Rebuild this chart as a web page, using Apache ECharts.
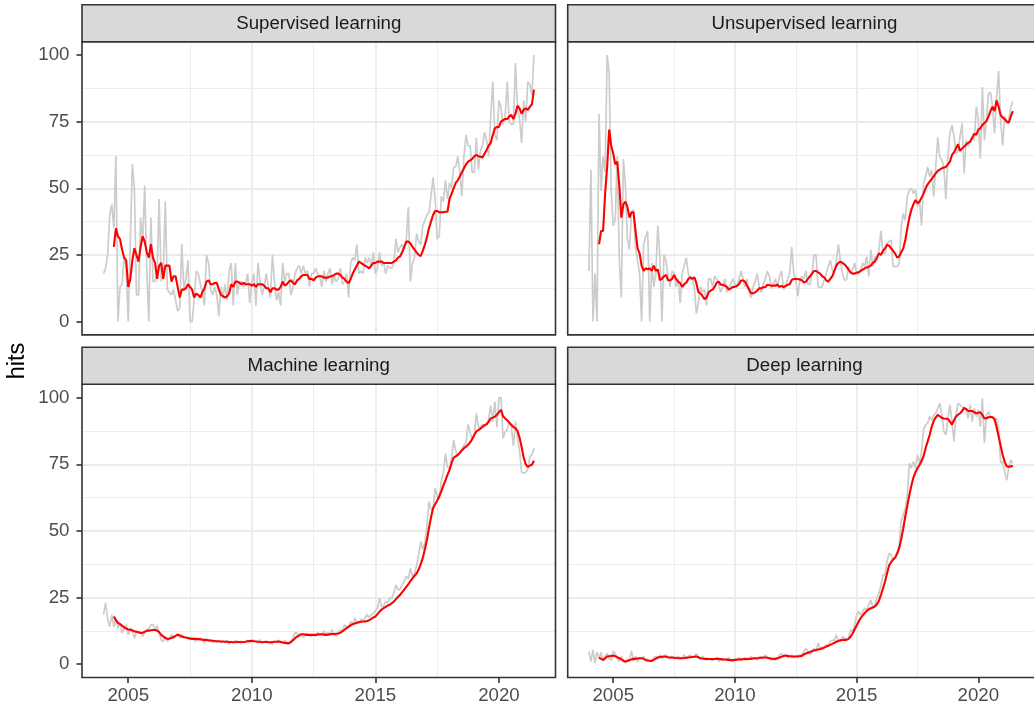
<!DOCTYPE html>
<html>
<head>
<meta charset="utf-8">
<script src="https://cdn.jsdelivr.net/npm/echarts@6/dist/echarts.min.js"></script>
<style>html,body{margin:0;padding:0;background:#fff}#c{width:1034px;height:708px}</style>
</head>
<body>
<div id="c"></div>
<script>
// ---------------- DATA ----------------
const startYear = 2004;           // first month: Jan 2004 (monthly data to Jun 2021)
const panelTitles = ['Supervised learning', 'Unsupervised learning', 'Machine learning', 'Deep learning'];
const xTickValues = [2005, 2010, 2015, 2020];
const yTickValues = [0, 25, 50, 75, 100];
const yTitle = 'hits';

const supGray = [18,20,25,40,44,35,62,0,13,14,25,20,
 0,30,59,50,10,10,39,30,51,20,0,39,
 15,15,18,46,15,18,45,12,11,10,12,8,
 4,5,29,12,16,23,0,0,8,19,18,14,
 11,6,25,22,12,10,13,10,2,13,9,14,
 8,19,22,6,22,10,15,15,13,14,18,7,
 15,18,6,22,15,10,13,18,13,9,25,15,
 8,11,6,22,15,18,18,10,13,18,20,21,
 18,21,18,19,13,18,18,20,18,17,13,19,
 15,18,20,14,17,15,16,20,14,15,18,9,
 22,24,23,29,18,19,18,24,22,24,21,26,
 18,20,26,21,22,18,21,20,20,22,31,26,
 28,29,27,31,43,15,22,24,33,30,29,36,
 38,40,41,47,54,46,31,32,47,45,53,46,
 52,50,58,58,62,56,47,62,70,66,66,56,
 56,69,57,64,66,71,68,62,77,90,70,68,
 83,80,74,77,90,75,74,74,97,80,76,67,
 83,75,90,89,85,100];
const supRed = [null,null,null,null,null,
 28,35,32,31,27,24,23,13,16,23,27.5,25,22.5,28,32,30,26,24,29,24,22,16,21,22,16,21,21,21,15,17,17,13,9,12,12,
 12.5,14,13,12,9,10.5,10,9,11,12.5, 15,15.5,14,14,14.5,14.5,12,10,9.5,9, 9.5,10.5,14,13,15,15,14.5,14,14.5,14,
 14,14,13.5,14,13,14,14,14,13.5,12.5, 12.5,11,12.5,12.5,12,12,13,15,13.5,14, 15,15.5,14.5,14,15.5,16,17,17.5,17.5,17.5,
 16,16,15.5,16.5,17,17,17,16.5,16.5,16.5, 17,17,17.5,18,18,17.5,16.5,16,15,14.4, 16,18,19.5,21,22.5,22,21.5,21,20.5,20,
 21,22,22,22.5,22.5,22.5,22,22,22,22, 22,22.5,23,24,24.4,26,28,30,30,29.4, 28,27,26,25,24.6,26.5,28.8,31.5,35,37.5,
 40,41.5,41.5,41,41,41,41.2,41.2,46,48, 50,52,53,54.4,56,57.5,59,60,60.5,61, 62,62.5,62,61.8,61.6,63,64.4,66,67,70,
 72.5,73,73,75,75.6,76,76,77,77.5,76, 78,81,80,78,79.5,80,79.4,80.6,81.5,87];

const unsupGray = [19,57,0,18,0,78,49,62,56,100, 93,49,36,38,62,23,9,61,51,31, 27,41,42,28,23,18,0,29,32,34,
 0,22,13,18,36,24,0,25,23,17.5, 13,19,18,13,16,7,18,21,24,18, 16,16,13,3,7,13,11,12,6,16,
 16,13,17,16,14,11,13,16,11,13, 14,16,14,13,16,19,16,13,16,10.6, 9,13,15,18,13,11,14,16,19,17,
 12.5,14,16,13,17,19,12,13,16,18, 28,18,
 16,9.4,15.6,17,16,19,14,13.8,18,25, 25,13,12.9,13,15.6,18,20.6,23,19.4,18, 23,29,23,18,15.6,15.6,20.6,18,19.4,22,
 18,18,19.4,22,20.6,24.4,17,27,20.6,24.4, 23,27,34,25.6,25.6,29.4,30,30.6,20.6,20.6, 20.6,21.9,35.6,40.6,38,46.9,49.4,50,48,49.4,
 43,45.6,36,51.9,54.4,58,54.4,56.9,46.9,58, 69,61.9,60.6,58,46,61.9,70.6,73.8,69.4,63, 64,69.4,74.4,55.6,68,65.6,68,69.4,68,80.6,
 75.6,61.2,88,68,75.6,85.6,86,80.6,70.6,84, 94,75.6,66,76.9,74.4,75.6,80.6,82.5];
const unsupRed = [null,null,null,null,null,
 29,34,34,48,58,72,66,63,59,60, 51,39,44,45,43,39,41,41,34,27.5, 25.6,21,19,20,19.6,20,19,21,19,19.6,
 15.6,16,17,17.5,15.6,15.4,16,17.5,16,15, 14.4,13,14,14.6,16,16.6,16,16.6,14.4,11, 10.6,9.6,8.4,9,11,11.6,12,13,14.6,15,
 13.8,13.8,13.5,13,12,12.5,13,13,13.4,14, 15.4,15.4,15,13.4,12,10.6,10.6,11,11.6,12.5, 12.5,12.9,13,13.8,13.6,13.5,13.5,13.5,13.8,13,
 13.4,12.9,13.4,13.8,14,
 15.6,16,16,16,15.8,15.5,14.6,15,16,17, 18,19,19,18.5,18,17,16.6,15.5,15,16, 17,19,21,22,22.5,22,21.5,20.6,19.5,18.5,
 18,18,18.3,18.5,19,19.5,20,20.3,20.6,21, 22,22.5,24,25.6,25,26.5,27.5,28.8,28.5,27.5, 26.5,25.5,24,24.5,26,27.5,30.6,35,39,42,
 44,45.6,44.4,45,46.5,48,50,51.5,52.5,53.5, 54.5,55.6,56.5,57,57.5,57.8,58,59,60,62.5, 63.5,65,66.5,64,65,65.6,66.5,67,67.5,69,
 70.5,70,72,72.5,73.75,74.5,75.2,77,79,80.6, 79,83,80.6,77.5,76.5,76,75,74.6,77,79];

const mlGray = [18.5,23,17,14,18.5,14,17,13.5,15.5,11.6, 13.5,14.75,11,13.5,12.9,9.75,12,12.2,12.2,10.5,
 12,12.9,13.5,14.75,15,12.9,14.5,12,9.1,8.5, 10.4,8.5,9.75,11.2,9.75,10.4,11.6,9.75,11,10.5,
 10,9.5,9.7,10,9,8.5,9.5,9.75,9,8, 9.5,8.5,9,8,8.7,8.2,9,8,8.5,8.2, 9,7.5,8.5,8,9,8.5,8,8.7,8.2,8.5,
 9,8,8.7,9,8.5,8.2,9.2,8,8.5,8.7, 8.2,8,7.5,8.5,8.2,9,8.5,8,9,7.8, 7.5,8.5,10,12,11.5,10.5,11,10,11.5,11.5,
 10.5,10.5,11,10.5,12,11,
 11,12.5,11,12,11,13,11,10.4,12,13, 12.5,14.75,14,14,16,15,17.25,16,15.5,17, 16,17.5,18.5,17.5,18.5,19,20,21,24.75,21.5,
 22,23.5,23,25,24.5,27,29.75,28,28,30, 31,33,32,36,33,34,37,41,46,43, 45.5,52,61,58,58,66,63,62,68.5,72,
 79,74,73,78,84,80,78,79,81,82, 83,90,87,84,86,94,89,89,90,89, 90,92,97,91,98.5,89,100,100,84.75,87,
 88,91,89,82,91,85,80,72,71.6,72, 73,78,78.5,81];
const mlRed = [null,null,null,null,null,
 17.9,16.5,15.5,15,14.5,13.8,13.4,13,12.9,12.6, 12.3,12.2,12,11.7,11.8,12.2,12.5,12.6,12.7,12.8,
 12.8,12.6,12,11,10.4,9.8,9.5,9.6,9.8,10.2, 10.6,11,10.8,10.4,10.1,10,9.8,9.6,9.5,9.5,
 9.5,9.4,9.3,9.2,9.1,9.1,9,8.9,8.8,8.7, 8.6,8.6,8.5,8.5,8.4,8.4,8.3,8.3,8.25,8.25,
 8.3,8.3,8.25,8.3,8.4,8.6,8.7,8.75,8.6,8.5, 8.4,8.3,8.25,8.3,8.3,8.25,8.2,8.3,8.4,8.4,
 8.5,8.3,8.1,8,7.9,7.9,8.3,9,9.75,10.3, 10.8,11.25,11.25,11,11,11,11,11,11,11.1,11.2,
 11.2,11.1,11,11.1,11.2,11.3,11.3,11.4,11.5,11.8, 12.3,12.9,13.5,14.1,14.6,15,15.3,15.5,15.7,15.9,
 16,16,16.2,16.5,17,17.5,17.9,18.8,19.7,20.5, 21,21.5,22,22.3,22.9,23.5,24.4,25.3,26,27,
 28,29,30,31.2,32.2,33.2,34,35.5,37.5,39.8, 43,46.5,51,55,58.5,60,61.3,63,64.8,67,
 69,71,72.9,75.5,77.5,78,78.5,79.3,80.2,81, 81.6,82.3,83.2,84.5,86,87.3,87.8,88.4,89,89.7,
 90,91,92.2,92.5,92.8,93.6,94.5,95.4,93,92.2, 91.5,90.6,89.8,89,88.5,87.5,85,81.5,77.5,75,
 74,74.5,74.8,76.3];

const dlGray = [4.75,1,5.4,0.4,4.5,2,4.5,1,3,4, 2,1.5,5,4,2,1,3,1,0.5,2, 1.5,5,1,3,1,2.5,2,3,1,2,
 1,1.5,2.5,3,2,3.5,2,3,3.5,2.5, 2,3,2,2.5,3,2,2.5,3.5,2,3, 3.5,2.5,3,4,2.5,2,3,2,1.5,2,
 2,1.5,2,2.5,1,2,1.5,2,1.5,2.5, 1.5,1,2,1.5,2.5,1.5,2,2.5,1.5,2, 3,2,2.5,1.5,3,2.5,2,3.5,2.5,2,
 1.5,2,2.5,2,3.5,4,3,3.5,2.5,3, 3.5,2.5,3,3.2,3.5,3.5,
 4.75,6,4.75,3.5,4.75,6,4.75,7.9,6,5.4, 6,7.25,7,8.5,9.1,8.75,11,8.75,8.5,10.4,
 9.75,9.5,9.75,12.9,12.25,14.75,18.5,19.75,18.5,19.75, 21,20.4,22.25,24.1,21,22.25,24.75,26.6,29.75,33.5,
 33.5,38.5,41.6,41,39,39.75,42.25,44.75,54,56, 58.5,63.5,75.4,73.5,76,73.5,78.5,75.4,79.75,87.9,
 89.75,90.4,92.9,91.6,93.5,94.1,96,97.9,93.5,87.25, 86,92.25,97.25,91,83.5,93.5,97.9,97.25,96.6,96,
 95.4,92.25,97.25,91,96,92.9,95.4,89.1,99.75,82.9, 93.5,94.75,92.25,92.9,91,92.25,88.5,75.4,76,72.25,
 69,73.5,76.6,75.4];
const dlRed = [null,null,null,null,null,
 2.5,2,1.6,2.2,2.9,3,3.1,3.25,3,2.6, 2.25,1.8,1.3,1,1.2,1.5,1.8,2,2,2.1,
 2.2,2.25,2,1.6,1.4,1.3,1.25,1.6,2.1,2.5, 2.7,2.8,2.9,2.8,2.6,2.5,2.5,2.4,2.3,2.25,
 2.25,2.25,2.3,2.4,2.5,2.6,2.7,2.8,2.9,2.6, 2.25,2.1,2,2,1.95,1.9,1.9,1.95,2,2,
 1.9,1.8,1.75,1.7,1.6,1.5,1.5,1.6,1.7,1.75, 1.8,1.85,1.9,1.95,2,2,2.1,2.2,2.25,2.3,
 2.4,2.5,2.5,2.4,2.25,2.1,2,1.9,2.2,2.5, 2.8,3.1,3.25,3.1,3,2.9,2.9,2.9,2.9,3,3.1,
 3.7,4,4.3,4.6,4.9,5.1,5.3,5.5,5.7,6, 6.25,6.6,6.9,7.25,7.6,8,8.4,8.7,9,9.1,
 9.1,9.1,9.5,10.3,11.5,13,14.5,16,17.3,18.3, 19.2,20,20.6,21,21.3,21.6,22.5,23.8,26,28.5,
 31,34,37,38.3,39.3,40,41.5,43.5,47,51, 55.5,59.5,63.5,67,70,72,73.5,74.75,76.2,78,
 81,83.5,86,89,91.3,92.6,93.5,93,92.4,92.2, 92.1,92,91,89.9,91.5,92.9,93.6,94.1,95,96.2,
 95.7,95,95,95,94.5,94.1,94.3,94.5,93.5,92.2, 92.3,92.6,92.8,92.6,92,89,85.5,82,78.5,76,
 74.2,74.1,74.2,74.4];

// ---------------- LAYOUT / STYLE ----------------
const FONT = '"Liberation Sans", Arial, Helvetica, sans-serif';
const colX = [82, 567.7];
const rowY = [41.7, 384.3];
const panelW = 473.5, panelH = 293.2, stripH = 37;
const grayColor = '#CCCCCC', redColor = '#FF0000';
const gridColor = '#EBEBEB', borderColor = '#333333';

// months as decimal years
const nMonths = supGray.length;
const monthX = Array.from({length: nMonths}, (_, i) => startYear + i / 12);
const lastX = monthX[nMonths - 1];
const xPad = (lastX - startYear) * 0.05;
const xMin = startYear - xPad, xMax = lastX + xPad;
const yMin = -5, yMax = 105;

const panelData = [[supGray, supRed], [unsupGray, unsupRed], [mlGray, mlRed], [dlGray, dlRed]];
const toPairs = arr => arr.map((v, i) => v == null ? null : [monthX[i], v]).filter(p => p);

const grids = [], xAxes = [], yAxes = [], series = [], graphics = [];
for (let k = 0; k < 4; k++) {
  const c = k % 2, r = Math.floor(k / 2);
  const left = colX[c], top = rowY[r];
  grids.push({left: left, top: top, width: panelW, height: panelH, show: false, containLabel: false});
  const showX = r === 1, showY = c === 0;
  xAxes.push({
    type: 'value', gridIndex: k, min: xMin, max: xMax, splitNumber: 4, minInterval: 5, maxInterval: 5,
    axisLine: {show: false, onZero: false},
    axisTick: {show: showX, customValues: xTickValues, length: 5.5, lineStyle: {color: borderColor, width: 1.6}},
    axisLabel: {show: showX, customValues: xTickValues, formatter: v => String(v), color: '#4D4D4D',
      fontSize: 18.7, fontFamily: FONT, margin: 9},
    splitLine: {show: true, showMinLine: false, showMaxLine: false, lineStyle: {color: gridColor, width: 1.8}},
    minorTick: {show: false, splitNumber: 2},
    minorSplitLine: {show: true, lineStyle: {color: gridColor, width: 0.9}}
  });
  yAxes.push({
    type: 'value', gridIndex: k, min: yMin, max: yMax, splitNumber: 4, minInterval: 25, maxInterval: 25,
    axisLine: {show: false, onZero: false},
    axisTick: {show: showY, customValues: yTickValues, length: 5.5, lineStyle: {color: borderColor, width: 1.6}},
    axisLabel: {show: showY, customValues: yTickValues, formatter: v => String(v), color: '#4D4D4D',
      fontSize: 18.7, fontFamily: FONT, margin: 12.5},
    splitLine: {show: true, showMinLine: false, showMaxLine: false, lineStyle: {color: gridColor, width: 1.8}},
    minorTick: {show: false, splitNumber: 2},
    minorSplitLine: {show: true, lineStyle: {color: gridColor, width: 0.9}}
  });
  const [g, red] = panelData[k];
  series.push({type: 'line', xAxisIndex: k, yAxisIndex: k, data: toPairs(g), showSymbol: false, symbol: 'none',
    lineStyle: {color: grayColor, width: 1.7}, z: 2, silent: true, animation: false});
  series.push({type: 'line', xAxisIndex: k, yAxisIndex: k, data: toPairs(red), showSymbol: false, symbol: 'none',
    lineStyle: {color: redColor, width: 2.1}, z: 3, silent: true, animation: false});

  // panel border
  graphics.push({type: 'rect', shape: {x: left, y: top, width: panelW, height: panelH}, z: 100,
    style: {fill: null, stroke: borderColor, lineWidth: 1.6}, silent: true});
  // strip
  graphics.push({type: 'rect', shape: {x: left, y: top - stripH, width: panelW, height: stripH}, z: 100,
    style: {fill: '#D9D9D9', stroke: borderColor, lineWidth: 1.6}, silent: true});
  graphics.push({type: 'text', x: left + panelW / 2, y: top - stripH / 2 + 0.5, z: 101, silent: true,
    style: {text: panelTitles[k], fill: '#1A1A1A', fontSize: 18.7, fontFamily: FONT, align: 'center', verticalAlign: 'middle'}});
}
graphics.push({type: 'text', x: 18, y: 361, rotation: Math.PI / 2, z: 101, silent: true,
  style: {text: yTitle, fill: '#000000', fontSize: 23.5, fontFamily: FONT, align: 'center', verticalAlign: 'middle'}});

const chart = echarts.init(document.getElementById('c'), null, {renderer: 'canvas'});
chart.setOption({
  animation: false,
  backgroundColor: '#FFFFFF',
  grid: grids, xAxis: xAxes, yAxis: yAxes, series: series,
  graphic: {elements: graphics}
});
</script>
</body>
</html>
